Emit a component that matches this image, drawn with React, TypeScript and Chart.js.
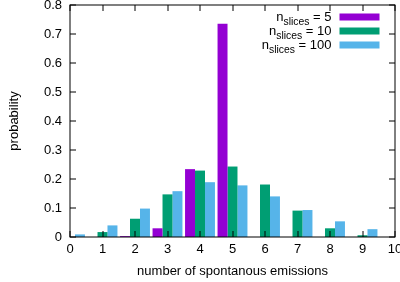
import React, { useEffect, useRef } from "react";
import { Chart, registerables } from "chart.js";

Chart.register(...registerables);

const xValues = [0, 1, 2, 3, 4, 5, 6, 7, 8, 9];
const nSlices5 = [0, 0, 0.003, 0.03, 0.234, 0.735, 0, 0, 0, 0];
const nSlices10 = [0, 0.017, 0.063, 0.147, 0.229, 0.243, 0.181, 0.091, 0.03, 0.006];
const nSlices100 = [0.009, 0.04, 0.098, 0.158, 0.189, 0.178, 0.14, 0.093, 0.054, 0.027];
const seriesLabels = ["5", "10", "100"];
const seriesColors = ["#9400D3", "#009E73", "#56B4E9"];
const xTitle = "number of spontanous emissions";
const yTitle = "probability";

const FONT = "'Liberation Sans', Arial, Helvetica, sans-serif";
const FS = 13;

const framePlugin = {
  id: "gnuFrame",
  afterDatasetsDraw(chart: any) {
    const { ctx, chartArea } = chart;
    const { left, right, top, bottom } = chartArea;
    const xs = chart.scales.x;
    const ys = chart.scales.y;
    ctx.save();
    ctx.strokeStyle = "#000";
    ctx.lineWidth = 1;
    ctx.beginPath();
    const tl = 6;
    xs.ticks.forEach((t: any) => {
      const px = Math.round(xs.getPixelForValue(t.value));
      ctx.moveTo(px, bottom);
      ctx.lineTo(px, bottom - tl);
      ctx.moveTo(px, top);
      ctx.lineTo(px, top + tl);
    });
    ys.ticks.forEach((t: any) => {
      const py = Math.round(ys.getPixelForValue(t.value));
      ctx.moveTo(left, py);
      ctx.lineTo(left + tl, py);
      ctx.moveTo(right, py);
      ctx.lineTo(right - tl, py);
    });
    ctx.stroke();
    ctx.strokeRect(left, top, right - left, bottom - top);

    // legend with subscripts
    const textRight = right - 63.5;
    const rectL = right - 55.5;
    const rectR = right - 15.5;
    chart.data.datasets.forEach((ds: any, i: number) => {
      const cy = top + 12 + i * 14;
      ctx.fillStyle = ds.backgroundColor;
      ctx.fillRect(rectL, cy - 3.5, rectR - rectL, 7);
      ctx.fillStyle = "#000";
      ctx.textBaseline = "alphabetic";
      ctx.textAlign = "left";
      const mainFont = `${FS}px ${FONT}`;
      const subFont = `${FS * 0.8}px ${FONT}`;
      const tail = " = " + seriesLabels[i];
      ctx.font = mainFont;
      const wTail = ctx.measureText(tail).width;
      const wN = ctx.measureText("n").width;
      ctx.font = subFont;
      const wSub = ctx.measureText("slices").width;
      const x0 = textRight - wTail - wSub - wN;
      const base = cy + 4;
      ctx.font = mainFont;
      ctx.fillText("n", x0, base);
      ctx.font = subFont;
      ctx.fillText("slices", x0 + wN, base + 4);
      ctx.font = mainFont;
      ctx.fillText(tail, x0 + wN + wSub, base);
    });
    ctx.restore();
  },
};

export default function App() {
  const ref = useRef<HTMLCanvasElement | null>(null);
  useEffect(() => {
    document.body.style.margin = "0";
    if (!ref.current) return;
    Chart.defaults.font.family = FONT;
    const mk = (vals: number[]) => xValues.map((x, i) => ({ x, y: vals[i] }));
    const chart = new Chart(ref.current, {
      type: "bar",
      data: {
        datasets: [
          { label: "5", data: mk(nSlices5), backgroundColor: seriesColors[0], borderWidth: 0 },
          { label: "10", data: mk(nSlices10), backgroundColor: seriesColors[1], borderWidth: 0 },
          { label: "100", data: mk(nSlices100), backgroundColor: seriesColors[2], borderWidth: 0 },
        ] as any,
      },
      options: {
        responsive: false,
        animation: false,
        events: [],
        datasets: { bar: { categoryPercentage: 0.92, barPercentage: 1.0 } } as any,
        layout: { padding: { left: 0, right: 5, top: 5, bottom: 0 } },
        plugins: { legend: { display: false }, tooltip: { enabled: false } },
        scales: {
          x: {
            type: "linear",
            min: 0,
            max: 10,
            offset: false,
            grid: { display: false, drawTicks: false, tickLength: 0, offset: false } as any,
            border: { display: false },
            ticks: {
              stepSize: 1,
              color: "#000",
              font: { size: FS, family: FONT },
              padding: 5,
              maxRotation: 0,
              autoSkip: false,
              callback: (v: any) => String(v),
            },
            title: {
              display: true,
              text: xTitle,
              color: "#000",
              font: { size: FS, family: FONT },
              padding: { top: 0, bottom: 3 },
            },
            afterFit: (s: any) => {
              s.height = 45;
              s.paddingLeft = 0;
              s.paddingRight = 0;
            },
          },
          y: {
            min: 0,
            max: 0.8,
            grid: { display: false, drawTicks: false, tickLength: 0 },
            border: { display: false },
            ticks: {
              stepSize: 0.1,
              color: "#000",
              font: { size: FS, family: FONT },
              padding: 8,
              callback: (v: any) => (Number(v) === 0 ? "0" : Number(v).toFixed(1)),
            },
            title: {
              display: true,
              text: yTitle,
              color: "#000",
              font: { size: FS, family: FONT },
              padding: { top: 7, bottom: 0 },
            },
            afterFit: (s: any) => {
              s.width = 70;
              s.paddingTop = 0;
              s.paddingBottom = 0;
            },
          },
        },
      },
      plugins: [framePlugin],
    });
    return () => chart.destroy();
  }, []);
  return (
    <div style={{ width: 400, height: 282 }}>
      <canvas ref={ref} width={400} height={282} style={{ display: "block" }} />
    </div>
  );
}
